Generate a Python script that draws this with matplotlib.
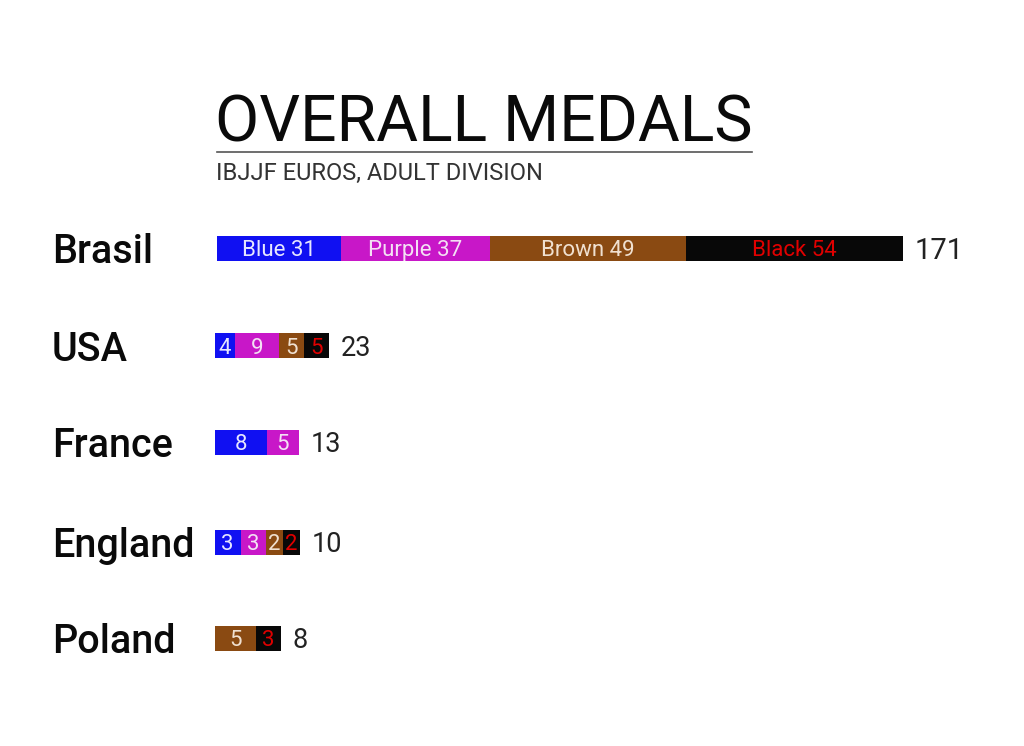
import matplotlib
matplotlib.use("Agg")
import matplotlib.pyplot as plt

countries = ["Brasil", "USA", "France", "England", "Poland"]
belts = ["Blue", "Purple", "Brown", "Black"]
blue = [31, 4, 8, 3, 0]
purple = [37, 9, 5, 3, 0]
brown = [49, 5, 0, 2, 5]
black = [54, 5, 0, 2, 3]
totals = [171, 23, 13, 10, 8]

title = "OVERALL MEDALS"
subtitle = "IBJJF EUROS, ADULT DIVISION"

belt_colors = ["#1010f2", "#c817c8", "#8a4a12", "#080808"]
text_colors = ["#e6e6ff", "#f4e0f4", "#f0e0d0", "#e00000"]

W, H = 1024, 746
fig = plt.figure(figsize=(W / 100, H / 100), dpi=100)
fig.patch.set_facecolor("white")

FONT = "Roboto"

def fx(px):
    return px / W

def fy(py):
    return 1 - py / H

# Title, rule, subtitle
fig.text(fx(215), fy(142), title, fontsize=46.3, family=FONT, weight="normal",
         color="#0a0a0a", ha="left", va="baseline")
fig.add_artist(plt.Line2D([fx(217), fx(752)], [fy(152), fy(152)],
                          color="#555555", lw=1.2, transform=fig.transFigure))
fig.text(fx(216), fy(180), subtitle, fontsize=17, family=FONT,
         color="#333333", ha="left", va="baseline")

# Row layout (pixels)
row_y = [248, 346, 442, 542, 638]
bar_x0 = [217, 215, 215, 215, 215]
bar_len = [686, 114, 84, 85, 66]
bar_h = 25
total_size = [21, 19.5, 19.5, 19.5, 19.5]

series = [blue, purple, brown, black]

for i, c in enumerate(countries):
    y = row_y[i]
    ax = fig.add_axes([fx(bar_x0[i]), fy(y + bar_h / 2), fx(bar_len[i]), bar_h / H])
    ax.set_xlim(0, totals[i])
    ax.set_ylim(-0.5, 0.5)
    ax.axis("off")
    left = 0
    for k, vals in enumerate(series):
        v = vals[i]
        if v == 0:
            continue
        ax.barh(0, v, left=left, height=1.0, color=belt_colors[k], linewidth=0)
        lab = f"{belts[k]} {v}" if i == 0 else f"{v}"
        ax.text(left + v / 2, 0, lab, ha="center", va="center_baseline",
                fontsize=16, family=FONT, color=text_colors[k])
        left += v
    # total label
    fig.text(fx(bar_x0[i] + bar_len[i] + 12), fy(y), f"{totals[i]}",
             fontsize=total_size[i], family=FONT, weight="normal", color="#222222",
             ha="left", va="center_baseline")
    # country label
    fig.text(fx(52), fy(y), c, fontsize=28.5, family=FONT, weight="medium",
             color="#0a0a0a", ha="left", va="center_baseline")

fig.savefig("out.png", dpi=100, facecolor="white")
